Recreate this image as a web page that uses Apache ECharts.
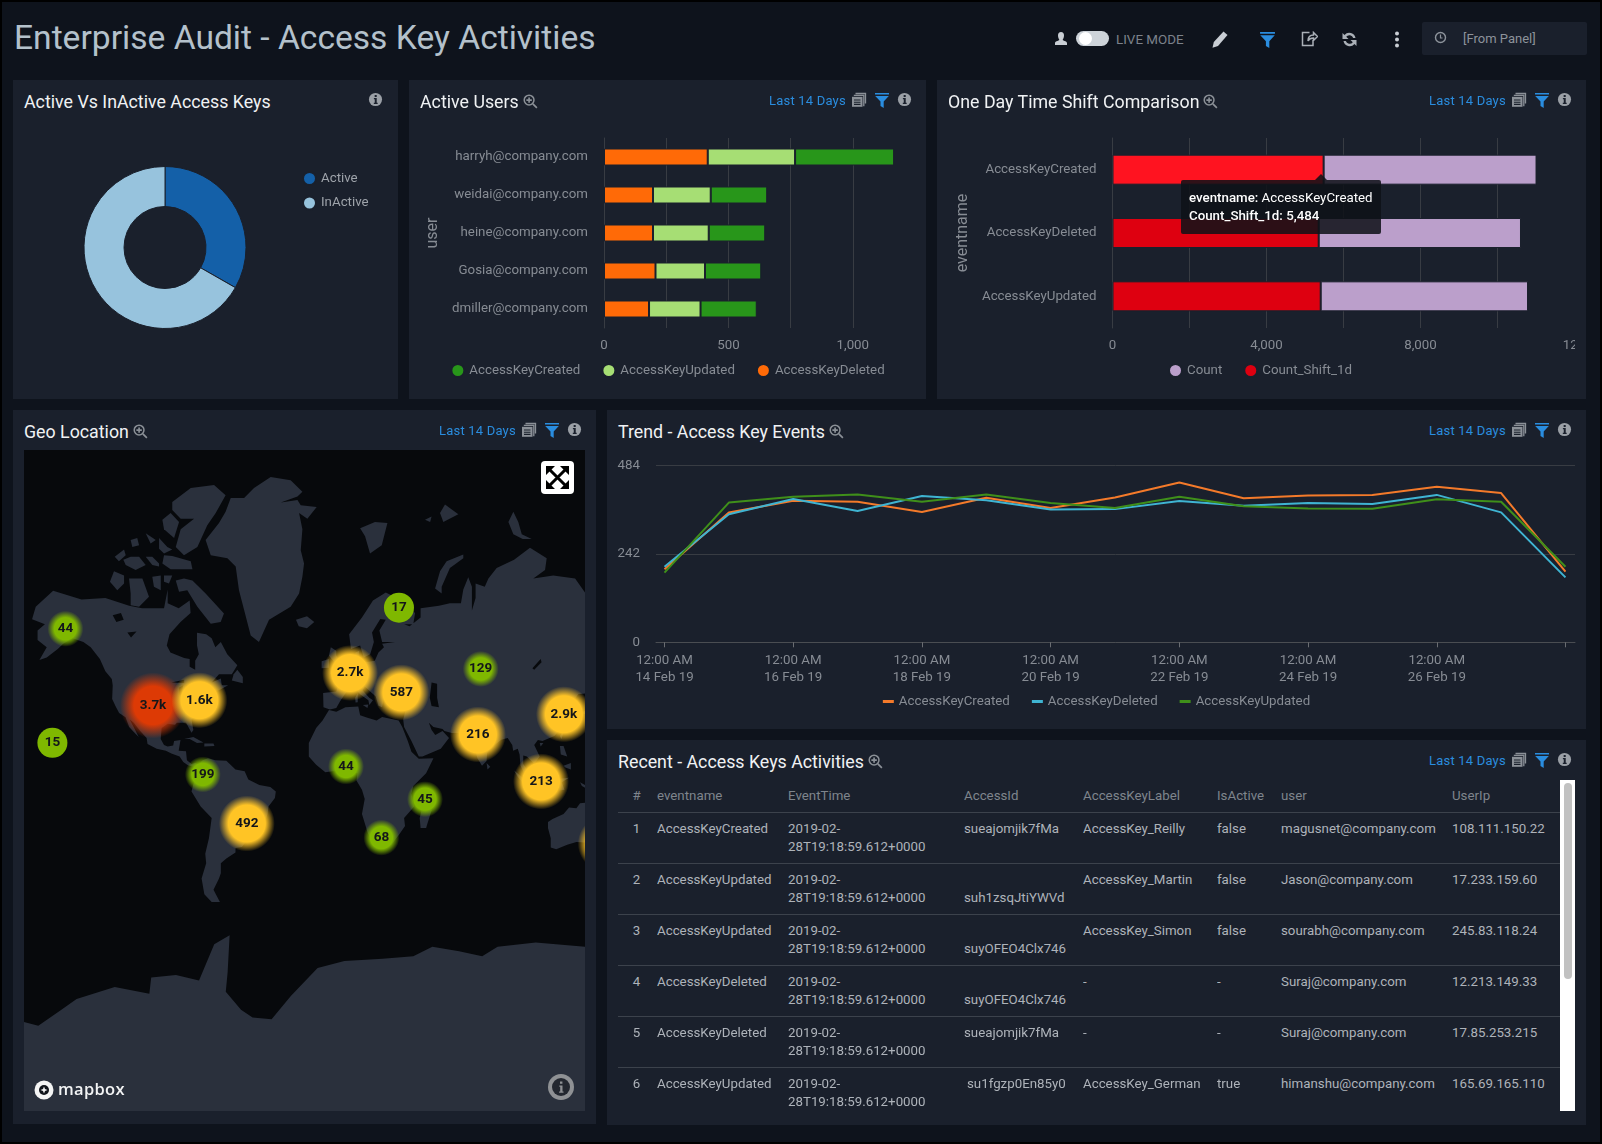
<!DOCTYPE html>
<html>
<head>
<meta charset="utf-8">
<title>Enterprise Audit - Access Key Activities</title>
<script src="https://cdn.jsdelivr.net/npm/echarts@6/dist/echarts.min.js"></script>
<style>
    html, body { margin: 0; padding: 0; }
    body { width: 1602px; height: 1144px; background: #0e131c; position: relative; overflow: hidden;
           font-family: Roboto, sans-serif; box-sizing: border-box; border: 2px solid #000; }
    #page { position: absolute; left: -2px; top: -2px; width: 1602px; height: 1144px; }
    .abs { position: absolute; }
    h1 { position: absolute; left: 14px; top: 14px; margin: 0; font-size: 33.6px; line-height: 48px; font-weight: 400; color: #b4c1cb; white-space: nowrap; }
    .panel { position: absolute; background: #1a202c; }
    .ptitle { position: absolute; left: 11px; top: 10px; font-size: 17.8px; line-height: 24px; color: #f0f2f4; white-space: nowrap; }
    .ptitle svg { margin-left: 4px; vertical-align: -1px; }
    .range { position: absolute; top: 12px; font-size: 13px; line-height: 17px; color: #2a8ddf; white-space: nowrap; letter-spacing: .2px; }
    .ico { position: absolute; }
    .chart { position: absolute; }
    #p1 { left: 13px; top: 80px; width: 385px; height: 319px; }
    #p2 { left: 409px; top: 80px; width: 517px; height: 319px; }
    #p3 { left: 937px; top: 80px; width: 649px; height: 319px; }
    #p4 { left: 13px; top: 410px; width: 583px; height: 714px; }
    #p5 { left: 607px; top: 410px; width: 979px; height: 319px; }
    #p6 { left: 607px; top: 740px; width: 979px; height: 385px; }
    #liveText { position: absolute; left: 1116px; top: 31px; font-size: 13.4px; line-height: 17px; color: #7c828b; white-space: nowrap; }
    #timeBox { position: absolute; left: 1422px; top: 22px; width: 165px; height: 33px; background: #1a202c; border-radius: 2px; }
    #timeBox span { position: absolute; left: 41px; top: 8px; font-size: 13px; line-height: 17px; color: #8d939b; }
    #tableWrap { position: absolute; left: 11px; top: 40px; width: 942px; height: 331px; overflow: hidden; }
    #grid { border-collapse: collapse; table-layout: fixed; width: 942px; font-size: 13.3px; line-height: 18px; color: #aeb3ba; }
    #grid th { height: 32px; padding: 1px 0 0 0; font-weight: 400; text-align: left; color: #7f858d; border-bottom: 1px solid #3c424c; box-sizing: border-box; }
    #grid td { height: 51px; padding: 7.5px 0 0 0; vertical-align: top; border-bottom: 1px solid #3c424c; box-sizing: border-box; white-space: nowrap; overflow: hidden; }
    #grid .num { text-align: center; padding-right: 2px; }
    #track { position: absolute; left: 953px; top: 40px; width: 15px; height: 331px; background: #fff; }
    #thumb { position: absolute; left: 4px; top: 3px; width: 8px; height: 196px; border-radius: 4px; background: #c1c1c1; }
    #mapWrap { position: absolute; left: 11px; top: 40px; width: 561px; height: 661px; overflow: hidden; background: #07090c; }
    #mapChart { position: absolute; left: 0; top: 0; width: 561px; height: 661px; }
    #mbox { position: absolute; left: 10px; top: 628px; height: 24px; color: #f2f3f4; font-size: 16.5px; line-height: 22px; font-weight: 600; letter-spacing: .3px; font-family: "Open Sans", Roboto, sans-serif; white-space: nowrap; }
</style>
</head>
<body>
<svg width="0" height="0" style="position:absolute">
    <defs>
        <symbol id="iZoom" viewBox="0 0 16 16"><circle cx="6.5" cy="6.5" r="5.2" fill="none" stroke="#8b9097" stroke-width="1.6"/><path d="M6.5 3.6v5.8M3.6 6.5h5.8M10.5 10.5l4.3 4.3" stroke="#8b9097" stroke-width="1.8" fill="none"/></symbol>
        <symbol id="iInfo" viewBox="0 0 16 16"><circle cx="8" cy="8" r="7" fill="#9a9fa6"/><path d="M6.3 6.5h3v5h1v1.3H6.2v-1.3h1v-3.7h-.9zM7.1 3.2h2.2v2.1H7.1z" fill="#1a202c"/></symbol>
        <symbol id="iCopy" viewBox="0 0 16 16"><path d="M4.5 1.5h10v10M2.8 3.4h10v10.8" fill="none" stroke="#8b9097" stroke-width="1.3"/><rect x="1" y="4.8" width="10.5" height="10" fill="#8b9097"/><path d="M3 8h6.5M3 10.2h6.5M3 12.4h6.5" stroke="#1a202c" stroke-width="1.1"/></symbol>
        <symbol id="iFilter" viewBox="0 0 16 16"><path d="M1 1h14v1.6H1zM1.2 4h13.6L9.7 9.6V16l-3.2-2V9.6z" fill="#2a8ddf"/></symbol>
    </defs>
</svg>
<div id="page">
    <h1>Enterprise Audit - Access Key Activities</h1>

    <svg class="abs" style="left:1054px;top:32px" width="14" height="14" viewBox="0 0 14 14"><path d="M7 0c2 0 3 1.500 3 3.500S9 7 8.600 8c1.500 1 4.400 1.200 4.400 3v2H1v-2c0-1.800 2.900-2 4.400-3C5 7 4 5.500 4 3.500S5 0 7 0z" fill="#c9ced4"/></svg>
    <div class="abs" style="left:1076px;top:31px;width:33px;height:15px;border-radius:8px;background:#cdd3d9"><div class="abs" style="left:3px;top:1px;width:13px;height:13px;border-radius:7px;background:#fff"></div></div>
    <div id="liveText">LIVE MODE</div>
    <svg class="abs" style="left:1212px;top:31px" width="16" height="17" viewBox="0 0 16 17"><path d="M11.500 0.500l4 3.500L6 15l-5.500 1.800L1.800 11z" fill="#c9ced4"/></svg>
    <svg class="abs" style="left:1259px;top:31px" width="17" height="17" viewBox="0 0 16 16"><use href="#iFilter"/></svg>
    <svg class="abs" style="left:1301px;top:31px" width="17" height="16" viewBox="0 0 17 16"><path d="M12 9v5.500H1.500V1.500h7M7 10c0-4 2-6 5.500-6V1.500L16.500 5.500l-4 4V7C10 7 8 8 7 10z" fill="none" stroke="#aab0b7" stroke-width="1.500"/></svg>
    <svg class="abs" style="left:1341px;top:31px" width="17" height="17" viewBox="0 0 17 17"><path d="M14.500 7A6.300 6.300 0 0 0 3.500 4L1.500 2v6h6L5.200 5.700a4 4 0 0 1 7 1.300zM2.500 10a6.300 6.300 0 0 0 11 3l2 2V9h-6l2.300 2.300a4 4 0 0 1-7-1.300z" fill="#aab0b7"/></svg>
    <svg class="abs" style="left:1394px;top:31px" width="6" height="17" viewBox="0 0 6 17"><circle cx="3" cy="2.500" r="2" fill="#c9ced4"/><circle cx="3" cy="8.500" r="2" fill="#c9ced4"/><circle cx="3" cy="14.500" r="2" fill="#c9ced4"/></svg>
    <div id="timeBox">
        <svg class="abs" style="left:12px;top:9px" width="13" height="13" viewBox="0 0 13 13"><circle cx="6.500" cy="6.500" r="5" fill="none" stroke="#8d939b" stroke-width="1.400"/><path d="M6.500 3.500v3.500h2" fill="none" stroke="#8d939b" stroke-width="1.200"/></svg>
        <span>[From Panel]</span>
    </div>

    <div class="panel" id="p1">
        <div class="ptitle">Active Vs InActive Access Keys</div>
        <div class="chart" id="donutChart" style="left:0;top:0;width:385px;height:319px"></div>
    </div>
    <div class="panel" id="p2">
        <div class="chart" id="usersChart" style="left:0;top:0;width:517px;height:319px"></div>
    </div>
    <div class="panel" id="p3">
        <div class="chart" id="shiftChart" style="left:0;top:0;width:638px;height:319px"></div>
    </div>
    <div class="panel" id="p4">
        <div id="mapWrap">
            <div id="mapChart"></div>
            <div id="mbox"><svg style="vertical-align:-5px;margin-right:4px" width="20" height="20" viewBox="0 0 20 20"><circle cx="10" cy="10" r="9.500" fill="#f4f4f4"/><circle cx="10" cy="10" r="5" fill="#10131a"/><path d="M10 6.500L11 9l2.500 1-2.500 1-1 2.500L9 11l-2.500-1L9 9z" fill="#f4f4f4"/></svg>mapbox</div>
            <svg class="abs" style="left:524px;top:624px" width="26" height="26" viewBox="0 0 26 26"><circle cx="13" cy="13" r="13" fill="#8f9194"/><circle cx="13" cy="13" r="9" fill="#23272f"/><path d="M11.300 11.500h3.200v6h1v1.300h-4.400v-1.300h1.100v-4.700h-.9zM12 7.500h2.400v2.300H12z" fill="#8f9194"/></svg>
            <div class="abs" style="left:517px;top:11px;width:33px;height:33px;border-radius:4px;background:#fff">
                <svg width="33" height="33" viewBox="0 0 33 33"><path d="M9 9l15 15M24 9L9 24" stroke="#000" stroke-width="3"/><path d="M5 5h9l-9 9zM28 5h-9l9 9zM5 28h9l-9-9zM28 28h-9l9-9z" fill="#000"/></svg>
            </div>
        </div>
    </div>
    <div class="panel" id="p5">
        <div class="chart" id="trendChart" style="left:0;top:40px;width:979px;height:279px"></div>
    </div>
    <div class="panel" id="p6">
        <div id="tableWrap"><table id="grid"><colgroup>
            <col style="width:39px"><col style="width:131px"><col style="width:176px"><col style="width:119px"><col style="width:134px"><col style="width:64px"><col style="width:171px"><col style="width:108px">
        </colgroup><thead id="gridHead"></thead><tbody id="gridBody"></tbody></table></div>
        <div id="track"><div id="thumb"></div></div>
    </div>
</div>

<script type="text/javascript">
    // donut
    var keyStates = ['Active', 'InActive'];
    var keyStateCounts = [133, 267];

    // active users (stacked bars)
    var userNames = ['harryh@company.com', 'weidai@company.com', 'heine@company.com', 'Gosia@company.com', 'dmiller@company.com'];
    var userDeleted = [417, 197, 197, 207, 181];
    var userUpdated = [351, 232, 224, 199, 207];
    var userCreated = [398, 227, 227, 226, 226];

    // time shift comparison
    var shiftEvents = ['AccessKeyCreated', 'AccessKeyDeleted', 'AccessKeyUpdated'];
    var shiftPrevious = [5484, 5356, 5408];
    var shiftCurrent = [5530, 5254, 5385];

    // trend, one value per day
    var trendDays = ['14 Feb 19', '15 Feb 19', '16 Feb 19', '17 Feb 19', '18 Feb 19', '19 Feb 19', '20 Feb 19', '21 Feb 19', '22 Feb 19', '23 Feb 19', '24 Feb 19', '25 Feb 19', '26 Feb 19', '27 Feb 19', '28 Feb 19'];
    var trendCreated = [200, 356, 388, 385, 357, 396, 368, 397, 438, 395, 402, 404, 426, 409, 194];
    var trendDeleted = [207, 351, 393, 360, 401, 389, 364, 365, 387, 374, 382, 379, 404, 356, 178];
    var trendUpdated = [191, 383, 399, 405, 385, 405, 382, 368, 399, 373, 367, 366, 392, 385, 207];

    // geo clusters
    var clusterCounts = [44, 3700, 1600, 15, 199, 492, 17, 2700, 587, 129, 44, 45, 68, 216, 2900, 213, 300];
    var clusterLon = [-149.8, -102, -76.7, -156.9, -74.8, -50.8, 32.2, 5.5, 33.5, 76.8, 3.3, 46.4, 22.6, 75.3, 122.2, 109.7, 145];
    var clusterLat = [63.4, 37.8, 40, 20.1, 3.3, -22.8, 68.1, 50.4, 43.2, 51.8, 7.6, -10.1, -29.7, 24.3, 33.9, -0.5, -32.5];

    // table columns
    var tableHeaders = ['#', 'eventname', 'EventTime', 'AccessId', 'AccessKeyLabel', 'IsActive', 'user', 'UserIp'];
    var tableEvents = ['AccessKeyCreated', 'AccessKeyUpdated', 'AccessKeyUpdated', 'AccessKeyDeleted', 'AccessKeyDeleted', 'AccessKeyUpdated'];
    var tableTimes = ['2019-02-28T19:18:59.612+0000', '2019-02-28T19:18:59.612+0000', '2019-02-28T19:18:59.612+0000', '2019-02-28T19:18:59.612+0000', '2019-02-28T19:18:59.612+0000', '2019-02-28T19:18:59.612+0000'];
    var tableIds = ['sueajomjik7fMa', 'suh1zsqJtiYWVd', 'suyOFEO4Clx746', 'suyOFEO4Clx746', 'sueajomjik7fMa', 'su1fgzp0En85y0'];
    var tableLabels = ['AccessKey_Reilly', 'AccessKey_Martin', 'AccessKey_Simon', '-', '-', 'AccessKey_German'];
    var tableActive = ['false', 'false', 'false', '-', '-', 'true'];
    var tableUsers = ['magusnet@company.com', 'Jason@company.com', 'sourabh@company.com', 'Suraj@company.com', 'Suraj@company.com', 'himanshu@company.com'];
    var tableIps = ['108.111.150.22', '17.233.159.60', '245.83.118.24', '12.213.149.33', '17.85.253.215', '165.69.165.110'];

    // rough coastlines, lon/lat, cut at the map's right edge
    var landShapes = {
        northAmerica: [[-168,65.6],[-166,68.3],[-156.5,71.3],[-141,69.7],[-128,70],[-115,68.5],[-108,68],[-96,68],[-94,71.5],[-94,69],[-88,68],[-82,69.5],[-81.5,67],[-87,65],[-93,62],[-94.5,59],[-92.5,57],[-85,55.3],[-82,55],[-82,52.5],[-79,51.5],[-79,54.5],[-77,56.5],[-78,59],[-78,62.4],[-73,62],[-70,61],[-68,58.5],[-65,60],[-61.5,56.5],[-56,53],[-59,50],[-66,50],[-70,47],[-65,48.5],[-64.5,46],[-61,46],[-66,44],[-70,43.5],[-70,41.7],[-74,40.5],[-76,38],[-75.5,35.3],[-78,34],[-81,31.5],[-80,26.5],[-81,25.2],[-82.7,28],[-84,30],[-89,30],[-90,29],[-94,29.5],[-97.3,27.5],[-97.8,22],[-96,19],[-94,18.2],[-91,18.7],[-90.5,21],[-87,21.5],[-88,16],[-84,15.7],[-83.5,11],[-81,9],[-79,9.5],[-77,8.7],[-78,7.5],[-80,7.5],[-83,8.3],[-85.5,10],[-87.5,13],[-92,14.5],[-95,16],[-100,17],[-105,19.5],[-105.5,22.5],[-109,26],[-112.5,30],[-114.7,31.5],[-112,27],[-109.8,23],[-112,25],[-115,28],[-117,32.5],[-120.5,34.5],[-122.5,37.5],[-124.3,40.5],[-124,46],[-124.5,48.3],[-128,51],[-131,55],[-136,58.5],[-140,60],[-146,61],[-151,59.5],[-154,58],[-160,55.5],[-164,54.7],[-160,58.5],[-165,60.5],[-165,63],[-161,64.5]],
        baffin: [[-89.6,73],[-85.1,73.3],[-80.5,73],[-73.3,70.8],[-63.3,66.9],[-65.1,65],[-70.5,64.6],[-77.8,68.3],[-83.3,71.4],[-87.8,71.1]],
        victoria: [[-115.1,73.3],[-107.8,73.3],[-104.2,70.2],[-109.6,68.3],[-114.2,68.6],[-114.2,70.8]],
        banks: [[-125.5,72.8],[-123.3,74.4],[-117.8,73.8],[-117.8,72.5],[-121.5,71.4]],
        ellesmere: [[-91.5,81.9],[-81.4,82.9],[-68.7,83.1],[-62.4,82.4],[-67.8,81],[-72.4,79.9],[-77.8,77.6],[-85.1,76.6],[-89.6,77.6],[-86.9,79.5],[-79.6,80.5],[-86.9,80.5],[-91.5,81.25]],
        axel: [[-96.9,80.4],[-92.4,81],[-87.8,80.2],[-90.5,78.6],[-96,79.5]],
        patrick: [[-122.9,76.4],[-117.8,77.3],[-116.9,76.6],[-120.6,75.8]],
        melville: [[-118.2,76],[-114.2,76.4],[-109.6,76.4],[-106,75.3],[-111.5,74.6],[-116.9,75.3]],
        bathurst: [[-106,76.4],[-102.4,76.4],[-98.7,75.5],[-98.7,75.1],[-102.4,75.3]],
        devon: [[-96,76.6],[-91.5,76.5],[-81.4,75.8],[-80.5,74.7],[-92.4,74.7],[-96.9,75.5]],
        ringnesEast: [[-106,79.1],[-100.5,78.4],[-103.3,78]],
        ringnesWest: [[-114.2,78.4],[-110.6,78.6],[-109.6,77.8],[-113.3,77.6]],
        amund: [[-98.7,78.6],[-94.2,77.6],[-91.5,77.3],[-96,76.8],[-98.7,77.4]],
        princeOfWales: [[-102.4,73.6],[-97.8,73.8],[-97.8,71.4],[-101.5,72]],
        somerset: [[-96,73.8],[-91.5,73.8],[-93.3,72.5],[-96,72.8]],
        newfoundland: [[-59,47.7],[-53,46.7],[-53,49],[-56,51.5],[-58,50]],
        greenland: [[-59.6,82.2],[-52.3,82.2],[-46.9,82.9],[-37.8,83.6],[-26.9,83.4],[-20.5,82.65],[-23.2,82.3],[-32.3,81.85],[-23.2,82.05],[-21.4,81.65],[-12.7,81.5],[-17.8,80.5],[-22.3,81],[-20.5,79.5],[-21.4,77.2],[-19.6,75.5],[-20.5,73.6],[-22.3,70.8],[-26.9,68.3],[-38.7,65.5],[-44.2,60],[-48.7,61.7],[-52.3,67.6],[-55.1,71.4],[-56.9,75.1],[-61.4,76.2],[-70.5,76.6],[-73.3,78.4],[-66,80.1],[-62.4,81.1]],
        iceland: [[-24,65.5],[-18,66.3],[-14,65],[-18,63.5],[-22.5,64]],
        cuba: [[-85,22],[-80,23],[-74.5,20.2],[-78,20],[-82,22]],
        hispaniola: [[-74,19.7],[-69,19.7],[-68.5,18.4],[-74,18.2]],
        southAmerica: [[-77,8.7],[-75,11],[-72,12],[-68,11],[-62,10.7],[-57,6],[-52,5],[-50,0.5],[-44,-2.5],[-38,-3.5],[-35,-6],[-35.5,-9.5],[-39,-14],[-39.5,-18],[-41,-22],[-45,-24],[-48.5,-26],[-50,-30],[-53.5,-34],[-57,-34.5],[-57,-36.5],[-62,-39],[-65,-41],[-65,-45],[-66,-47],[-69,-51],[-65.5,-55],[-70,-55],[-74,-52.5],[-75.5,-47],[-73,-41],[-73.5,-37],[-71.5,-30],[-70,-20],[-76,-14],[-81,-6],[-80,-2],[-78,2],[-77.5,7]],
        africa: [[-6,35.8],[-2,35],[3,37],[10,37.3],[11,33.5],[15,32.3],[20,31],[23,32.7],[32,31],[34,28],[37,21],[39,15.5],[43,11.8],[51,12],[47,4],[40,-3],[39,-7],[40.5,-14],[35,-20],[35.5,-24],[32.5,-28],[28,-33],[20,-34.8],[18.3,-33],[15,-27],[12,-18],[13.5,-10],[12,-5],[9,0],[9.5,4],[5,5.5],[-4,5],[-8,4.5],[-13,8.5],[-17,13],[-17,20],[-13,27.5],[-9.5,31]],
        madagascar: [[49.3,-12],[50,-16],[47,-25],[44,-25],[43.5,-20],[44.5,-16]],
        eurasia: [[-9,37],[-9.2,43],[-2,43.5],[-1,46],[-4.5,48.5],[2,51],[4,52.5],[8,54],[8.5,57],[10.5,57.5],[10,54.5],[14,54],[19,54.5],[21,57],[24,58.5],[23,59.5],[30,60],[23,60],[21.5,63],[25,65.5],[22,65.7],[17.5,62.5],[18.5,60],[16.5,56.5],[13,55.5],[11,59],[6,58],[5,62],[12,66],[18,69.5],[25,71],[31,70],[41,67],[40,64.5],[35,64.5],[38,64],[44,66],[44,68],[54,68.5],[60,69],[66,69],[67.3,71.5],[70,73.5],[72,72],[72,67.5],[74,70],[74,72.5],[79,72],[81,73.3],[85.5,74.9],[95,76],[103.7,77.5],[112.8,76.2],[111.9,74.6],[105.5,73.3],[116.4,73.8],[128.3,73.3],[133.7,71],[133.7,42.8],[130,42.5],[127.5,39.8],[129.3,36],[126.5,34.5],[126,37.5],[124.5,40],[121.5,39],[118,39],[122,37],[119.5,35],[122,31],[121,28],[117,23.5],[110.5,21],[108,21.5],[106,19],[109,13],[106,9],[105,10],[102,13],[100,13.5],[100,9],[103.5,4],[103.5,1.5],[101,3],[98.5,8],[98,14],[97,17],[94.5,16],[94,19],[91.5,22.5],[88,21.7],[85,19.5],[80.3,15],[80,10.5],[77.5,8],[75,12],[73,19],[72.5,21],[69,22.5],[67,25],[61,25],[57,26],[56,27],[51,28],[48.5,30],[50,26.5],[52,24],[56,26],[59.5,22.5],[55,17],[45,13],[43,13],[39,21],[35,28],[34.5,31.5],[36,36.5],[30,36.2],[27,37],[26.5,40],[29,41],[35,42],[41,41.5],[37,45],[33,46],[30.5,46],[28,42],[24,40.7],[23,37],[21,37.7],[19.5,41.5],[13.5,45.5],[12.3,44],[16,41],[18,40],[16,38],[15.5,40],[11,42.5],[8.7,44.3],[3.5,43.3],[0,39.5],[-2,36.7],[-5.5,36]],
        britain: [[-5.5,50],[1,51],[1.5,53],[-2,56],[-2,57.5],[-5,58.5],[-6,56],[-3,54],[-5,52]],
        ireland: [[-10,52],[-6,52.2],[-6,55],[-10,54.3]],
        sicily: [[12.5,38],[15.5,38.2],[15,36.7]],
        sardinia: [[8.3,41],[9.7,43],[9.7,39.2],[8.5,39]],
        novaya: [[51.9,71.7],[54.6,74.4],[58.2,75.8],[67.3,76.7],[67.3,76.2],[60,74.9],[55.5,72],[55.5,70.8]],
        svalbard: [[11,79.6],[19.1,80.2],[25.9,80.1],[22.8,77.8],[16.4,76.8],[13.7,78.8]],
        franzWest: [[46.4,80.4],[50,80.7],[49.2,80.2]],
        franzEast: [[54.6,81],[57.3,81.7],[64.6,80.9],[56.4,80.2]],
        severnaya: [[91.9,80.2],[94.6,81.1],[97.3,80.2],[99.2,79],[104.6,78.5],[99.7,78.5],[94.6,79]],
        sriLanka: [[80,9.5],[82,7.5],[80.5,6]],
        kyushu: [[130,33.5],[131.5,33.5],[131,31.2],[130,31.5]],
        honshu: [[131,34.2],[133.7,35.5],[133.7,34]],
        sumatra: [[95,5.5],[104,-2],[106,-6],[102,-4],[97,2]],
        java: [[105.5,-6.5],[114.5,-7.5],[114,-8.7],[106,-7.5]],
        borneo: [[109,1.5],[117,7],[119,1],[116,-4],[110,-3]],
        sulawesi: [[119.5,-5.5],[120,1],[125,1.5],[121,-1],[122.5,-5]],
        luzon: [[120,18.5],[122,18.5],[124,13],[120.5,14]],
        mindanao: [[122,8],[126,9.5],[126,6],[123,7]],
        taiwan: [[121,25],[122,25],[120.8,22],[120,23.5]],
        hainan: [[109,20],[111,20],[109.5,18.2]],
        newGuinea: [[131,-1],[133.7,-2.5],[133.7,-4],[132,-3]],
        australia: [[113.5,-22],[116,-20.5],[122,-18],[125,-14.5],[129,-15],[131,-12.3],[133.7,-12],[133.7,-32],[129,-31.7],[124,-33],[118,-35],[115,-34.3],[115,-30],[113.5,-25]],
        antarctica: [[-172.4,-78.5],[-164.6,-78.9],[-152,-77.1],[-143.7,-75.7],[-122.9,-74],[-104,-75],[-103,-72.5],[-89.5,-72.1],[-76.9,-73],[-68.6,-66.2],[-60.2,-64.1],[-61.3,-71.7],[-62.3,-74.7],[-54,-77.1],[-47.7,-78],[-37.3,-78.2],[-26.8,-75.3],[-12.2,-70.9],[2.4,-69.6],[23.3,-69.2],[40,-68.7],[50.4,-66.7],[65,-67.7],[77.6,-68.7],[86,-66.7],[106.8,-65.8],[133.7,-66.7],[133.7,-85.05],[-172.4,-85.05]]
    };
    // inland water
    var landHoles = {
        eurasia: [
            [[50,47],[53,46.5],[53,41],[54,37],[50,37.5],[49,41]],
            [[105,52],[109.5,55],[110,54],[106,51.5]]
        ],
        northAmerica: [
            [[-124,66.5],[-119.5,67],[-118,65.5],[-122,65]],
            [[-116,62.5],[-111,62.7],[-114,61.2]],
            [[-92,47],[-85,48],[-85,46.8]],
            [[-87.8,45],[-85.5,46],[-86.5,42],[-87.5,42]],
            [[-84,46],[-80,45.5],[-82,43.3],[-83.5,44]]
        ]
    };

    var textColor = '#878c94';
    var lineColor = '#383c43';

    function icon(id, left, top, size) {
        return '<svg class="ico" style="left:' + left + 'px;top:' + top + 'px" width="' + size + '" height="' + size + '"><use href="#' + id + '"/></svg>';
    }

    // panel header: title, zoom glass, range text, copy/filter/info icons
    function addHeader(panelId, title, rangeLeft) {
        var el = document.getElementById(panelId);
        var html = '<div class="ptitle" style="z-index:2">' + title + '<svg width="15" height="15"><use href="#iZoom"/></svg></div>';
        var w = el.offsetWidth;
        html += '<div class="range" style="left:' + rangeLeft + 'px;z-index:2">Last 14 Days</div>';
        html += icon('iCopy', w - 75, 12, 16);
        html += icon('iFilter', w - 52, 12, 16);
        html += icon('iInfo', w - 29, 12, 15);
        el.insertAdjacentHTML('beforeend', html);
    }
    addHeader('p2', 'Active Users', 360);
    addHeader('p3', 'One Day Time Shift Comparison', 492);
    addHeader('p4', 'Geo Location', 426);
    addHeader('p5', 'Trend - Access Key Events', 822);
    addHeader('p6', 'Recent - Access Keys Activities', 822);
    document.getElementById('p1').insertAdjacentHTML('beforeend', icon('iInfo', 355, 12, 15));

    // table
    var headHtml = '<tr>';
    tableHeaders.forEach(function (h, i) {
        headHtml += '<th' + (i === 0 ? ' class="num"' : '') + '>' + h + '</th>';
    });
    document.getElementById('gridHead').innerHTML = headHtml + '</tr>';
    var bodyHtml = '';
    tableEvents.forEach(function (ev, i) {
        var time = tableTimes[i].replace('02-', '02-<br>');
        // ids that did not fit beside the wrapped time sit on the second line
        var id = tableIds[i];
        if (i >= 1 && i <= 3) id = '<br>' + id;
        if (i === 5) id = '<span style="padding-left:3px">' + id + '</span>';
        bodyHtml += '<tr><td class="num">' + (i + 1) + '</td><td>' + ev + '</td><td>' + time + '</td><td>' + id + '</td><td>' + tableLabels[i] + '</td><td>' + tableActive[i] + '</td><td>' + tableUsers[i] + '</td><td>' + tableIps[i] + '</td></tr>';
    });
    document.getElementById('gridBody').innerHTML = bodyHtml;

    var donutChart = echarts.init(document.getElementById('donutChart'));
    donutChart.setOption({
        animation: false,
        color: ['#1460a8', '#97c3dd'],
        legend: {
            orient: 'vertical', left: 289, top: 91, padding: 0, icon: 'circle', itemWidth: 13, itemHeight: 16, itemGap: 9.5,
            textStyle: { color: '#9ea3aa', fontSize: 13.3, fontFamily: 'Roboto' },
            data: keyStates
        },
        series: [{
            type: 'pie', center: [152, 167.5], radius: [41, 81], startAngle: 90, clockwise: true,
            label: { show: false }, labelLine: { show: false },
            itemStyle: { borderColor: '#1a202c', borderWidth: 1 },
            data: keyStates.map(function (n, i) { return { name: n, value: keyStateCounts[i] }; })
        }]
    });

    function fmtNum(v) { return echarts.format.addCommas(v); }

    var usersChart = echarts.init(document.getElementById('usersChart'));
    function userBar(name, color, values) {
        return { name: name, type: 'bar', stack: 'u', barWidth: 17, data: values, itemStyle: { color: color, borderColor: '#1a202c', borderWidth: 1 } };
    }
    usersChart.setOption({
        animation: false,
        textStyle: { fontFamily: 'Roboto' },
        grid: { left: 195, top: 58, width: 311, height: 190, outerBoundsMode: 'none' },
        legend: {
            left: 'center', top: 283, padding: 0, icon: 'circle', itemWidth: 13, itemHeight: 16, itemGap: 21,
            textStyle: { color: textColor, fontSize: 13.3 },
            data: ['AccessKeyCreated', 'AccessKeyUpdated', 'AccessKeyDeleted']
        },
        xAxis: {
            type: 'value', min: 0, max: 1250, interval: 250,
            axisLine: { show: false }, axisTick: { show: false },
            splitLine: { lineStyle: { color: lineColor }, showMaxLine: false },
            axisLabel: { color: textColor, fontSize: 13.3, margin: 11, formatter: function (v) { return v % 500 === 0 && v <= 1000 ? fmtNum(v) : ''; } }
        },
        yAxis: {
            type: 'category', inverse: true, data: userNames,
            name: 'user', nameLocation: 'center', nameGap: 158, nameTextStyle: { color: textColor, fontSize: 16 },
            axisLine: { lineStyle: { color: lineColor } }, axisTick: { length: 10, lineStyle: { color: lineColor }, alignWithLabel: true },
            axisLabel: { color: textColor, fontSize: 13.3, margin: 16 }
        },
        series: [
            userBar('AccessKeyDeleted', '#ff6a07', userDeleted),
            userBar('AccessKeyUpdated', '#a6de74', userUpdated),
            userBar('AccessKeyCreated', '#28961a', userCreated)
        ]
    });

    var shiftChart = echarts.init(document.getElementById('shiftChart'));
    shiftChart.setOption({
        animation: false,
        textStyle: { fontFamily: 'Roboto' },
        grid: { left: 175.5, top: 58, width: 462, height: 190, outerBoundsMode: 'none' },
        legend: {
            left: 231, top: 283, padding: 0, icon: 'circle', itemWidth: 13, itemHeight: 16, itemGap: 21,
            textStyle: { color: textColor, fontSize: 13.3 },
            data: ['Count', 'Count_Shift_1d']
        },
        tooltip: {
            trigger: 'item', alwaysShowContent: true, transitionDuration: 0, padding: 0,
            position: [244, 100], backgroundColor: 'rgba(14,17,23,0.86)', borderWidth: 0, borderRadius: 2,
            extraCssText: 'box-shadow:none;overflow:visible;',
            formatter: function (p) {
                return '<div style="position:relative;width:200px;height:54px;font:13.3px/18px Roboto;color:#fff">' +
                    '<div style="position:absolute;left:134px;top:-6px;width:0;height:0;border:6px solid transparent;border-top:0;border-bottom-color:rgba(14,17,23,0.86)"></div>' +
                    '<div style="position:absolute;left:8px;top:9px;white-space:nowrap"><b style="font-weight:500">eventname:</b> ' + p.name + '</div>' +
                    '<div style="position:absolute;left:8px;top:27px;white-space:nowrap;font-weight:500">' + p.seriesName + ': ' + fmtNum(p.value) + '</div></div>';
            }
        },
        xAxis: {
            type: 'value', min: 0, max: 12000, interval: 2000,
            axisLine: { show: false }, axisTick: { show: false },
            splitLine: { lineStyle: { color: lineColor }, showMaxLine: false },
            axisLabel: {
                color: textColor, fontSize: 13.3, margin: 11,
                formatter: function (v) {
                    if (v === 12000) return '\u00a0\u00a0\u00a0\u00a0\u00a0' + fmtNum(v); // sits further right in the reference, cut by the panel
                    return v % 4000 === 0 ? fmtNum(v) : '';
                }
            }
        },
        yAxis: {
            type: 'category', inverse: true, data: shiftEvents,
            name: 'eventname', nameLocation: 'center', nameGap: 139, nameTextStyle: { color: textColor, fontSize: 16 },
            axisLine: { lineStyle: { color: lineColor } }, axisTick: { length: 10, lineStyle: { color: lineColor }, alignWithLabel: true },
            axisLabel: { color: textColor, fontSize: 13.3, margin: 16 }
        },
        series: [
            {
                name: 'Count_Shift_1d', type: 'bar', stack: 's', barWidth: 30, emphasis: { disabled: true },
                itemStyle: { color: '#de0010', borderColor: '#1a202c', borderWidth: 1 },
                data: shiftPrevious.map(function (v, i) {
                    return i === 0 ? { value: v, itemStyle: { color: '#ff1320' } } : v;
                })
            },
            {
                name: 'Count', type: 'bar', stack: 's', barWidth: 30, emphasis: { disabled: true },
                itemStyle: { color: '#bb9fcb', borderColor: '#1a202c', borderWidth: 1 },
                data: shiftCurrent
            }
        ]
    });
    // the reference was captured with the first bar hovered
    shiftChart.dispatchAction({ type: 'showTip', seriesIndex: 0, dataIndex: 0 });

    // geo clusters on a hand made mercator land layer
    var landFeatures = Object.keys(landShapes).map(function (name) {
        var ring = landShapes[name].slice();
        ring.push(ring[0]);
        var rings = [ring];
        (landHoles[name] || []).forEach(function (hole) {
            // holes wind the other way round or they get filled
            var h = hole.slice().reverse();
            h.push(h[0]);
            rings.push(h);
        });
        return { type: 'Feature', properties: { name: name }, geometry: { type: 'Polygon', coordinates: rings } };
    });
    echarts.registerMap('land', { type: 'FeatureCollection', features: landFeatures });

    function clusterLabel(n) {
        return n >= 1000 ? (n / 1000).toFixed(1) + 'k' : String(n);
    }
    // blurred blob: solid core that fades out to nothing
    function blob(color, rgb, solid) {
        return {
            type: 'radial', x: 0.5, y: 0.5, r: 0.5,
            colorStops: [
                { offset: 0, color: color }, { offset: solid, color: color },
                { offset: 1, color: 'rgba(' + rgb + ',0)' }
            ]
        };
    }
    function clusterItem(n, i) {
        var style, size;
        if (n < 20) { size = 30; style = '#7fb800'; }
        else if (n < 200) { size = 36; style = blob('#7fb800', '127,184,0', 0.62); }
        else if (n < 3000) { size = 56; style = blob('#ffc425', '255,196,37', 0.66); }
        else { size = 66; style = blob('#dd3a05', '221,58,5', 0.58); }
        return {
            name: clusterLabel(n), value: [clusterLon[i], clusterLat[i], n],
            symbolSize: size,
            itemStyle: { color: style, opacity: 1 }
        };
    }
    var mapChart = echarts.init(document.getElementById('mapChart'));
    mapChart.setOption({
        animation: false,
        backgroundColor: '#07090c',
        geo: {
            map: 'land', silent: true, roam: false, left: 0, top: 0, width: 561, height: 661,
            boundingCoords: [[-172.4, 85.05], [133.7, -85.05]],
            projection: {
                project: function (p) {
                    return [p[0] * Math.PI / 180, -Math.log(Math.tan(Math.PI / 4 + p[1] * Math.PI / 360))];
                },
                unproject: function (p) {
                    return [p[0] * 180 / Math.PI, (2 * Math.atan(Math.exp(-p[1])) - Math.PI / 2) * 180 / Math.PI];
                }
            },
            label: { show: false },
            itemStyle: { areaColor: '#2a303c', borderWidth: 0 }
        },
        series: [{
            type: 'scatter', coordinateSystem: 'geo', silent: true,
            label: { show: true, position: 'inside', color: '#14161a', fontSize: 13.5, fontWeight: 700, fontFamily: 'Roboto', formatter: '{b}' },
            data: clusterCounts.map(clusterItem)
        }]
    });

    var trendChart = echarts.init(document.getElementById('trendChart'));
    function trendLine(name, color, values) {
        return {
            name: name, type: 'line', showSymbol: false, lineStyle: { color: color, width: 2 }, itemStyle: { color: color },
            data: values.map(function (v, i) { return [i, v]; })
        };
    }
    var trendTicks = [0, 2, 4, 6, 8, 10, 12, 14];
    trendChart.setOption({
        animation: false,
        textStyle: { fontFamily: 'Roboto' },
        grid: { left: 49, right: 11, top: 15.7, height: 176.6, outerBoundsMode: 'none' },
        legend: {
            left: 'center', top: 245, padding: 0, icon: 'rect', itemWidth: 11, itemHeight: 3, itemGap: 22,
            textStyle: { color: textColor, fontSize: 13.3 },
            data: ['AccessKeyCreated', 'AccessKeyDeleted', 'AccessKeyUpdated']
        },
        xAxis: {
            type: 'value', min: -0.132, max: 14.148,
            splitLine: { show: false },
            axisLine: { lineStyle: { color: '#4a4d52' } },
            axisTick: { length: 5, lineStyle: { color: '#6a6d72' }, customValues: trendTicks },
            axisLabel: {
                color: textColor, fontSize: 13.3, lineHeight: 17, margin: 10,
                customValues: trendTicks.slice(0, 7),
                formatter: function (v) { return '12:00 AM\n' + trendDays[v]; }
            }
        },
        yAxis: {
            type: 'value', min: 0, max: 484, interval: 242,
            axisLine: { show: false }, axisTick: { show: false },
            splitLine: { lineStyle: { color: lineColor, width: 1 } },
            axisLabel: { color: textColor, fontSize: 13.3, margin: 16 }
        },
        series: [
            trendLine('AccessKeyCreated', '#f47a2a', trendCreated),
            trendLine('AccessKeyDeleted', '#3fb4d2', trendDeleted),
            trendLine('AccessKeyUpdated', '#3f8f1a', trendUpdated)
        ]
    });
</script>
</body>
</html>
